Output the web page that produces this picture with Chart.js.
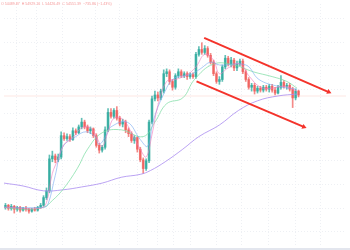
<!DOCTYPE html>
<html>
<head>
<meta charset="utf-8">
<script src="https://cdn.jsdelivr.net/npm/chart.js@4"></script>
<style>
  html, body { margin: 0; padding: 0; background: #fff; }
  #wrap { width: 350px; height: 250px; }
</style>
</head>
<body>
<div id="wrap"><canvas id="priceChart" width="350" height="250"></canvas></div>
<script>
// candle values (index = bar number, price in chart units)
const open = [40,42,39,41,38,40,37,39,38,36,38,37,40,42,50,57,90,93,89,92,
  114,111,113,110,119,117,123,128,123,119,121,114,104,99,102,120,138,134,140,132,
  126,128,120,116,109,112,100,89,80,88,128,152,156,153,160,178,180,170,164,176,
  180,176,178,175,177,175,198,203,200,204,197,190,178,170,172,185,194,188,192,184,
  188,191,180,172,164,166,160,163,161,164,162,165,161,158,164,169,165,166,162,153,160];
const close = [42,39,41,38,40,37,39,38,36,38,37,40,42,50,57,90,93,89,92,114,
  111,113,110,119,117,123,128,123,119,121,114,104,99,102,120,138,134,140,132,126,
  128,120,116,109,112,100,89,80,88,128,152,156,153,160,178,180,170,164,176,180,
  176,178,175,177,175,198,203,200,204,197,190,178,170,172,185,194,188,192,184,188,
  191,180,172,164,166,160,163,161,164,162,165,161,158,164,169,165,166,162,153,160,156];
const high = [44,43,43,42,41,41,40,41,39,39,40,41,44,52,60,94,98,95,95,118,
  117,116,115,122,121,125,132,130,125,123,122,116,106,104,123,142,142,142,144,134,
  131,130,122,118,114,113,102,91,90,130,155,160,159,162,182,183,182,172,178,183,
  182,180,180,179,179,200,206,210,207,206,199,192,180,175,187,197,196,195,194,191,
  193,193,182,174,168,168,165,165,166,166,167,167,164,166,176,171,168,168,164,162,161];
const low = [38,37,37,34,36,35,36,36,34,35,36,36,39,41,48,55,87,86,87,90,
  109,109,108,109,115,116,121,121,117,116,112,102,96,97,100,118,132,132,130,124,
  123,117,113,107,106,97,87,75,78,86,126,150,150,151,158,175,167,161,162,174,
  174,174,172,173,173,173,196,198,198,195,188,176,168,167,170,183,186,185,181,181,
  186,178,170,162,160,157,158,159,159,160,159,159,156,157,162,163,162,160,143,151,154];

// moving averages: [bar, price]
const maPink = [[-0.5,40],[12,39],[14,45],[16,75],[18,90],[20,105],[23,112],[26,122],[29,122],
  [31,113],[33,103],[35,118],[37,132],[40,131],[43,117],[46,100],[48,92],[50,115],[52,145],
  [55,170],[58,172],[62,177],[65,185],[68,198],[71,192],[73,178],[76,184],[80,188],[83,176],
  [87,164],[91,163],[95,165],[99.5,160]];
const maBlue = [[-0.5,40],[13,40],[14.5,43],[17,73],[19.5,102],[24,113],[27.5,118],[30.5,113],
  [32,105],[34.5,115],[36,123],[41.5,128],[46,110],[48.5,103],[50.5,130],[54,157],[57.5,173],
  [63,177],[66.5,183],[70,190],[73,187],[82,187],[86.5,172],[93,165],[99.5,162]];
const maGreen = [[-0.5,40],[6,38],[13,40],[16,47],[19.5,58],[24.5,80],[28,100],[33,117],
  [39.5,120],[47,113],[51,128],[55,147],[60.5,153],[64.5,172],[71,188],[78,187],[84.5,180],
  [91,175],[96,170],[99.5,163]];
const maPurple = [[-0.5,65],[6,62],[13,57],[19.5,58],[26,61],[33,65],[39.5,71],[46,74],
  [49.5,78],[54.5,87],[60.5,100],[66,113],[73,125],[79.5,140],[86,150],[93,155],[99.5,157]];

// channel arrows drawn on the chart
const upperArrow = [[67.8,215],[110.3,159]];
const lowerArrow = [[65.2,170],[101.8,123]];
const lastPrice = 155;

const legendText = "O 54489.87  H 54929.16  L 54426.49  C 54551.39  \u2212735.86 (\u22121.43%)";

const xGrid = [7.2,13.8,25.2,36.2,41.8,48.2,55.5,59.5,66.8,77.2,84.2,95.5,102.2,112.8];
const yGrid = [235,210.5,186,161.5,137,112.5,88,63.5,39,14.5];

const up = "rgba(38,166,154,0.72)";
const down = "rgba(239,83,80,0.68)";

const bars = open.map((o, i) => i);
const bodyColors = bars.map(i => close[i] >= open[i] ? up : down);

const pts = arr => arr.map(p => ({ x: p[0], y: p[1] }));

const legendPlugin = {
  id: "legendText",
  afterDraw(chart) {
    const c = chart.ctx;
    c.save();
    c.font = "3.6px 'Liberation Sans', Arial, sans-serif";
    c.fillStyle = "#f59a9a";
    c.textBaseline = "top";
    c.fillText(legendText, 1, 2);
    c.fillStyle = "#e3e6ee";
    c.fillRect(0, 248, 350, 2);
    c.restore();
  }
};

new Chart(document.getElementById("priceChart"), {
  type: "bar",
  data: {
    datasets: [
      {
        type: "line",
        data: pts(upperArrow),
        borderColor: "#f4332b",
        borderWidth: 2,
        pointRadius: [0, 3],
        pointStyle: "triangle",
        pointRotation: 114,
        pointBackgroundColor: "#f4332b",
        pointBorderWidth: 0,
        order: 0
      },
      {
        type: "line",
        data: pts(lowerArrow),
        borderColor: "#f4332b",
        borderWidth: 2,
        pointRadius: [0, 3],
        pointStyle: "triangle",
        pointRotation: 113,
        pointBackgroundColor: "#f4332b",
        pointBorderWidth: 0,
        order: 0
      },
      { type: "line", data: pts(maPink), borderColor: "rgba(240,120,190,0.6)", borderWidth: 1, pointRadius: 0, tension: 0.4, order: 1 },
      { type: "line", data: pts(maBlue), borderColor: "rgba(120,170,240,0.6)", borderWidth: 1, pointRadius: 0, tension: 0.4, order: 1 },
      { type: "line", data: pts(maGreen), borderColor: "rgba(120,220,160,0.7)", borderWidth: 1, pointRadius: 0, tension: 0.4, order: 1 },
      { type: "line", data: pts(maPurple), borderColor: "rgba(170,140,240,0.8)", borderWidth: 1, pointRadius: 0, tension: 0.4, order: 1 },
      {
        data: bars.map(i => ({ x: i, y: [Math.min(open[i], close[i]), Math.max(open[i], close[i])] })),
        backgroundColor: bodyColors,
        barThickness: 2,
        grouped: false,
        borderSkipped: false,
        order: 2
      },
      {
        data: bars.map(i => ({ x: i, y: [low[i], high[i]] })),
        backgroundColor: bodyColors,
        barThickness: 1,
        grouped: false,
        order: 3
      },
      {
        type: "line",
        data: [{ x: -0.5, y: lastPrice }, { x: 116.2, y: lastPrice }],
        borderColor: "rgba(242,120,110,0.13)",
        borderWidth: 1.5,
        pointRadius: 0,
        order: 4
      }
    ]
  },
  options: {
    responsive: false,
    animation: false,
    layout: { padding: 0 },
    plugins: { legend: { display: false }, tooltip: { enabled: false } },
    scales: {
      x: {
        type: "linear",
        min: -0.5,
        max: 116.2,
        offset: false,
        afterBuildTicks: s => { s.ticks = xGrid.map(v => ({ value: v })); },
        ticks: { display: false },
        grid: { color: "#eef0f4", drawTicks: false },
        border: { display: false, dash: [1, 2] }
      },
      y: {
        min: 0,
        max: 250,
        afterBuildTicks: s => { s.ticks = yGrid.map(v => ({ value: v })); },
        ticks: { display: false },
        grid: { color: "#eef0f4", drawTicks: false },
        border: { display: false, dash: [1, 2] }
      }
    }
  },
  plugins: [legendPlugin]
});
</script>
</body>
</html>
